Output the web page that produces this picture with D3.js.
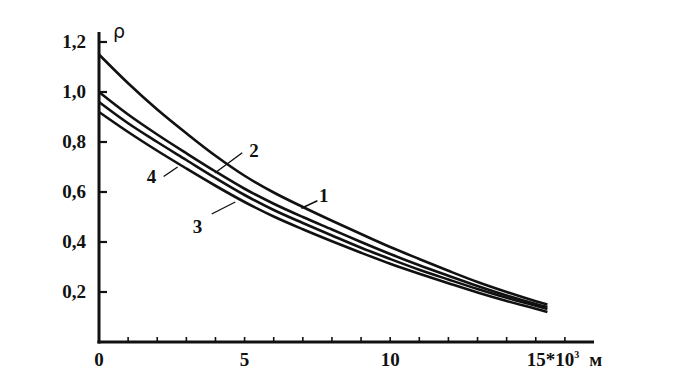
<!DOCTYPE html>
<html>
<head>
<meta charset="utf-8">
<script src="https://cdn.jsdelivr.net/npm/d3@7"></script>
<style>
  body { margin: 0; background: #fff; }
  svg { display: block; }
  .lbl { font-family: "Liberation Serif", "Times New Roman", serif; font-weight: bold; font-size: 19px; fill: #111; }
</style>
</head>
<body>
<div class="chart"></div>
<script>
// distance, 10^3 m
var xs = [0, 1, 2, 3, 4, 5, 6, 7, 8, 9, 10, 11, 12, 13, 14, 15, 15.4];

// rho values
var curve1 = [1.15, 1.035, 0.93, 0.835, 0.745, 0.665, 0.598, 0.54, 0.485, 0.432, 0.38, 0.332, 0.285, 0.24, 0.2, 0.163, 0.15];
var curve2 = [1.00, 0.91, 0.83, 0.755, 0.682, 0.613, 0.553, 0.50, 0.45, 0.40, 0.352, 0.307, 0.265, 0.224, 0.186, 0.152, 0.14];
var curve4 = [0.96, 0.875, 0.80, 0.728, 0.656, 0.588, 0.528, 0.476, 0.426, 0.377, 0.332, 0.289, 0.25, 0.212, 0.177, 0.145, 0.132];
var curve3 = [0.92, 0.84, 0.765, 0.694, 0.625, 0.56, 0.502, 0.451, 0.403, 0.357, 0.313, 0.273, 0.235, 0.198, 0.164, 0.133, 0.12];

var yTicks = [0.2, 0.4, 0.6, 0.8, 1.0, 1.2];
var yTickLabels = ["0,2", "0,4", "0,6", "0,8", "1,0", "1,2"];
var xMinorTicks = d3.range(1, 17);
var xTickValues = [0, 5, 10];

// curve labels: text, label position, leader from -> to (data units)
var curveLabels = [
  {text: "1", x: 7.72, y: 0.585, x1: 7.5, y1: 0.565, x2: 6.95, y2: 0.535},
  {text: "2", x: 5.32, y: 0.765, x1: 4.92, y1: 0.757, x2: 3.98, y2: 0.676},
  {text: "3", x: 3.38, y: 0.462, x1: 4.68, y1: 0.56, x2: 3.87, y2: 0.512},
  {text: "4", x: 1.8, y: 0.66, x1: 2.22, y1: 0.662, x2: 2.7, y2: 0.70}
];

var width = 700, height = 378;

var x = d3.scaleLinear().domain([0, 17]).range([99, 594]);
var y = d3.scaleLinear().domain([0, 1.2]).range([342, 42]);

var svg = d3.select(".chart")
  .append("svg")
  .attr("width", width)
  .attr("height", height);

// curves
var line = d3.line()
  .x(function(d) { return x(d[0]); })
  .y(function(d) { return y(d[1]); })
  .curve(d3.curveCatmullRom);

[curve1, curve2, curve4, curve3].forEach(function(c) {
  svg.append("path")
    .datum(xs.map(function(v, i) { return [v, c[i]]; }))
    .attr("fill", "none")
    .attr("stroke", "#111")
    .attr("stroke-width", 2.6)
    .attr("d", line);
});

// axes
svg.append("line")
  .attr("x1", x(0)).attr("x2", x(0))
  .attr("y1", y(0) + 1.5).attr("y2", 32)
  .attr("stroke", "#111").attr("stroke-width", 3);

svg.append("line")
  .attr("x1", x(0) - 1.5).attr("x2", x(17))
  .attr("y1", y(0)).attr("y2", y(0))
  .attr("stroke", "#111").attr("stroke-width", 3);

// y ticks
svg.selectAll(".ytick")
  .data(yTicks)
  .enter()
  .append("line")
  .attr("x1", x(0)).attr("x2", x(0) + 8)
  .attr("y1", function(d) { return y(d); })
  .attr("y2", function(d) { return y(d); })
  .attr("stroke", "#111").attr("stroke-width", 2.2);

svg.selectAll(".ylabel")
  .data(yTicks)
  .enter()
  .append("text")
  .attr("class", "lbl")
  .attr("x", x(0) - 13)
  .attr("y", function(d) { return y(d) + 6; })
  .attr("text-anchor", "end")
  .text(function(d, i) { return yTickLabels[i]; });

// x ticks
svg.selectAll(".xtick")
  .data(xMinorTicks)
  .enter()
  .append("line")
  .attr("x1", function(d) { return x(d); })
  .attr("x2", function(d) { return x(d); })
  .attr("y1", y(0)).attr("y2", y(0) - 5)
  .attr("stroke", "#111").attr("stroke-width", 1.6);

svg.selectAll(".xlabel")
  .data(xTickValues)
  .enter()
  .append("text")
  .attr("class", "lbl")
  .attr("x", function(d) { return x(d); })
  .attr("y", 366)
  .attr("text-anchor", "middle")
  .text(function(d) { return d; });

var last = svg.append("text")
  .attr("class", "lbl")
  .attr("x", x(15) - 9)
  .attr("y", 366);
last.append("tspan").text("15*10");
last.append("tspan").attr("dy", -8).attr("font-size", "10px").text("3");
last.append("tspan").attr("dy", 8).attr("dx", 10).text("м");

// rho
svg.append("text")
  .attr("x", x(0) + 14)
  .attr("y", 38)
  .attr("font-family", "DejaVu Sans, sans-serif")
  .attr("font-size", "19px")
  .attr("fill", "#111")
  .text("ρ");

// curve labels
svg.selectAll(".leader")
  .data(curveLabels)
  .enter()
  .append("line")
  .attr("x1", function(d) { return x(d.x1); })
  .attr("y1", function(d) { return y(d.y1); })
  .attr("x2", function(d) { return x(d.x2); })
  .attr("y2", function(d) { return y(d.y2); })
  .attr("stroke", "#111").attr("stroke-width", 1.4);

svg.selectAll(".clabel")
  .data(curveLabels)
  .enter()
  .append("text")
  .attr("class", "lbl")
  .attr("x", function(d) { return x(d.x); })
  .attr("y", function(d) { return y(d.y) + 6; })
  .attr("text-anchor", "middle")
  .text(function(d) { return d.text; });
</script>
</body>
</html>
